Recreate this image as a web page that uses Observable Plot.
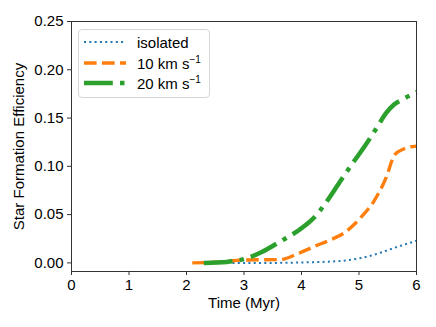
<!DOCTYPE html>
<html>
<head>
<meta charset="utf-8">
<script src="https://cdn.jsdelivr.net/npm/d3@7"></script>
<script src="https://cdn.jsdelivr.net/npm/@observablehq/plot@0.6"></script>
<style>
  html, body { margin: 0; padding: 0; background: #fff; }
  #wrap { position: relative; width: 436px; height: 327px; font-family: "Liberation Sans", Arial, sans-serif; }
  #legend { position: absolute; left: 78px; top: 29px; width: 132px; height: 69px; border: 1px solid #d6d6d6; border-radius: 4px; background: rgba(255,255,255,0.8); box-sizing: border-box; }
  .row { position: absolute; left: 0; height: 20px; display: flex; align-items: center; }
  .row svg { margin-left: 5px; }
  .row span { position: absolute; left: 58px; font-size: 15px; white-space: nowrap; color: #000; }
  sup { font-size: 10px; vertical-align: 6px; line-height: 0; }
</style>
</head>
<body>
<div id="wrap"></div>
<script>
const timeIso = [2.8, 3.5, 4.0, 4.68, 5.03, 5.32, 5.61, 5.95, 6.0];
const sfeIso  = [0.0, 0.0, 0.0005, 0.002, 0.005, 0.0095, 0.0155, 0.022, 0.023];

const time10 = [2.1, 2.6, 3.0, 3.64, 3.93, 4.22, 4.51, 4.74, 5.03, 5.26, 5.47, 5.62, 5.78, 6.0];
const sfe10  = [0.0, 0.001, 0.003, 0.0035, 0.0094, 0.017, 0.024, 0.031, 0.047, 0.064, 0.088, 0.112, 0.118, 0.121];

const time20 = [2.3, 2.7, 3.06, 3.3, 3.64, 3.93, 4.22, 4.42, 4.68, 4.91, 5.09, 5.32, 5.47, 5.61, 5.78, 6.0];
const sfe20  = [0.0, 0.001, 0.005, 0.011, 0.0225, 0.033, 0.047, 0.062, 0.085, 0.105, 0.120, 0.141, 0.155, 0.164, 0.170, 0.177];

const seriesNames = ["isolated", "10 km s−1", "20 km s−1"];
const xTicks = [0, 1, 2, 3, 4, 5, 6];
const yTicks = [0, 0.05, 0.10, 0.15, 0.20, 0.25];

const styles = [
  {stroke: "#1f77b4", strokeWidth: 2, strokeDasharray: "2,3.3"},
  {stroke: "#ff7f0e", strokeWidth: 3.4, strokeDasharray: "12.6,5.4"},
  {stroke: "#2ca02c", strokeWidth: 4.5, strokeDasharray: "28.8,7.2,4.5,7.2"}
];

const toRows = (t, v) => t.map((x, i) => ({t: x, v: v[i]}));
const data = [toRows(timeIso, sfeIso), toRows(time10, sfe10), toRows(time20, sfe20)];

const chart = Plot.plot({
  width: 436,
  height: 327,
  marginLeft: 71,
  marginRight: 20,
  marginTop: 21,
  marginBottom: 56,
  style: {fontFamily: "'Liberation Sans', Arial, sans-serif", fontSize: "15px", background: "#fff", color: "#000", overflow: "visible"},
  x: {domain: [0, 6]},
  y: {domain: [-0.0089, 0.25]},
  marks: [
    ...data.map((d, i) => Plot.line(d, {x: "t", y: "v", ...styles[i], strokeLinecap: "butt", strokeLinejoin: "round", curve: "monotone-x"})),
    Plot.frame({stroke: "#333", strokeWidth: 1}),
    Plot.axisX({ticks: xTicks, tickSize: 4, tickPadding: 4, tickFormat: d => String(d), label: null, stroke: "#333", fontSize: 15}),
    Plot.axisY({ticks: yTicks, tickSize: 4, tickPadding: 4, tickFormat: d3.format(".2f"), label: null, stroke: "#333", fontSize: 15}),
    Plot.text(["Time (Myr)"], {frameAnchor: "bottom", dy: 32, lineAnchor: "middle", textAnchor: "middle", fontSize: 15}),
    Plot.text(["Star Formation Efficiency"], {frameAnchor: "left", dx: -52, rotate: -90, lineAnchor: "middle", textAnchor: "middle", fontSize: 15})
  ]
});

const wrap = document.getElementById("wrap");
wrap.appendChild(chart);

const legend = document.createElement("div");
legend.id = "legend";
const rowTops = [2, 23, 43];
seriesNames.forEach((name, i) => {
  const row = document.createElement("div");
  row.className = "row";
  row.style.top = rowTops[i] + "px";
  const s = d3.create("svg").attr("width", 44).attr("height", 20);
  s.append("line").attr("x1", 0).attr("x2", 42).attr("y1", 10).attr("y2", 10)
    .attr("stroke", styles[i].stroke).attr("stroke-width", styles[i].strokeWidth)
    .attr("stroke-dasharray", styles[i].strokeDasharray);
  row.appendChild(s.node());
  const label = document.createElement("span");
  const parts = name.split(" s−1");
  if (parts.length > 1) {
    label.innerHTML = parts[0] + " s<sup>−1</sup>";
  } else {
    label.textContent = name;
  }
  row.appendChild(label);
  legend.appendChild(row);
});
wrap.appendChild(legend);
</script>
</body>
</html>
